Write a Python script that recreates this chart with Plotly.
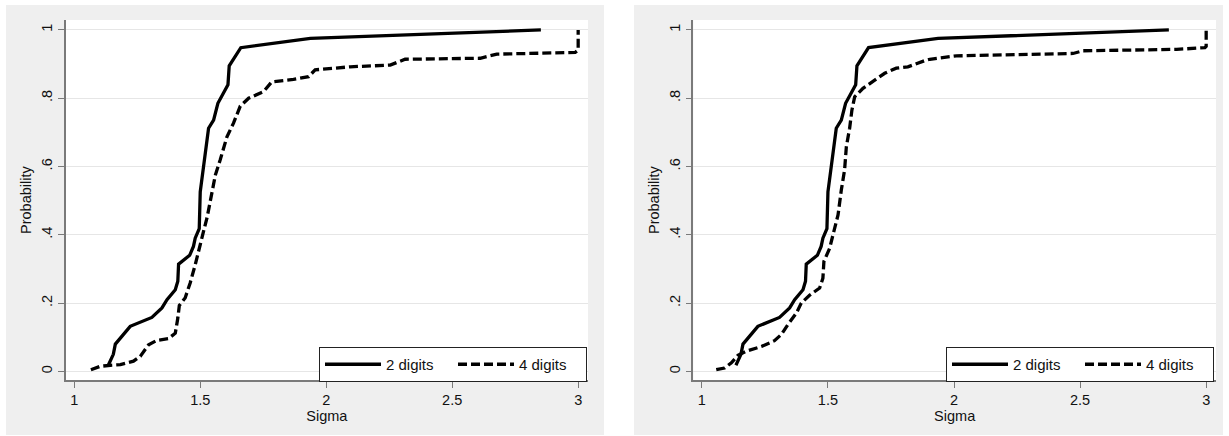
import plotly.graph_objects as go

# ---- data ----
x_two = [1.135, 1.155, 1.163, 1.222, 1.308, 1.348, 1.368, 1.401, 1.411, 1.414, 1.458, 1.473,
         1.480, 1.496, 1.500, 1.516, 1.533, 1.553, 1.570, 1.610, 1.615, 1.661, 1.937, 2.852]
y_two = [0.018, 0.050, 0.080, 0.132, 0.158, 0.186, 0.210, 0.239, 0.264, 0.314, 0.340, 0.366,
         0.390, 0.418, 0.526, 0.609, 0.712, 0.736, 0.785, 0.839, 0.895, 0.948, 0.975, 1.000]

x_four_left = [1.066, 1.103, 1.143, 1.183, 1.235, 1.262, 1.295, 1.328, 1.374, 1.401, 1.411, 1.417,
               1.440, 1.460, 1.480, 1.500, 1.513, 1.527, 1.546, 1.560, 1.579, 1.593, 1.606, 1.632,
               1.659, 1.692, 1.751, 1.784, 1.870, 1.930, 1.956, 2.095, 2.254, 2.313, 2.611, 2.677,
               2.988, 3.000, 3.000]
y_four_left = [0.005, 0.015, 0.018, 0.020, 0.030, 0.044, 0.078, 0.091, 0.096, 0.112, 0.156, 0.193,
               0.215, 0.259, 0.312, 0.366, 0.410, 0.450, 0.526, 0.575, 0.619, 0.658, 0.687, 0.727,
               0.777, 0.800, 0.819, 0.848, 0.855, 0.863, 0.883, 0.892, 0.897, 0.914, 0.917, 0.929,
               0.934, 0.941, 1.000]

x_four_right = [1.057, 1.090, 1.117, 1.143, 1.176, 1.236, 1.288, 1.315, 1.341, 1.375, 1.394, 1.427,
                1.467, 1.480, 1.484, 1.507, 1.520, 1.533, 1.540, 1.553, 1.566, 1.573, 1.586, 1.595,
                1.606, 1.639, 1.679, 1.725, 1.771, 1.817, 1.884, 1.904, 2.010, 2.472, 2.512, 2.883,
                2.995, 3.000, 3.000]
y_four_right = [0.005, 0.010, 0.025, 0.047, 0.059, 0.073, 0.090, 0.108, 0.137, 0.171, 0.200, 0.223,
                0.244, 0.273, 0.322, 0.361, 0.400, 0.440, 0.458, 0.531, 0.590, 0.658, 0.712, 0.765,
                0.804, 0.829, 0.850, 0.873, 0.888, 0.892, 0.910, 0.914, 0.924, 0.931, 0.939, 0.943,
                0.948, 0.952, 1.000]

x_tickvals = [1, 1.5, 2, 2.5, 3]
x_ticktext = ["1", "1.5", "2", "2.5", "3"]
y_tickvals = [0, 0.2, 0.4, 0.6, 0.8, 1.0]
y_ticktext = ["0", ".2", ".4", ".6", ".8", "1"]

series_names = ["2 digits", "4 digits"]

# ---- layout geometry ----
W, H = 1229, 436
FONT = "Liberation Sans, Arial, sans-serif"
GRAY = "#efefef"

def px_x(p):
    return p / W

def px_y(p):
    return 1 - p / H

fig = go.Figure()

solid = dict(color="black", width=3.3)
dashed = dict(color="black", width=3.3, dash="9px,4px")

fig.add_trace(go.Scatter(x=x_two, y=y_two, mode="lines", line=solid, name=series_names[0],
                         xaxis="x", yaxis="y", legend="legend"))
fig.add_trace(go.Scatter(x=x_four_left, y=y_four_left, mode="lines", line=dashed, name=series_names[1],
                         xaxis="x", yaxis="y", legend="legend"))
fig.add_trace(go.Scatter(x=x_two, y=y_two, mode="lines", line=solid, name=series_names[0],
                         xaxis="x2", yaxis="y2", legend="legend2"))
fig.add_trace(go.Scatter(x=x_four_right, y=y_four_right, mode="lines", line=dashed, name=series_names[1],
                         xaxis="x2", yaxis="y2", legend="legend2"))

ydom = [px_y(380.3), px_y(20)]
xdom1 = [px_x(65.7), px_x(588)]
xdom2 = [px_x(693.3), px_x(1216)]

common_x = dict(range=[0.966, 3.039], tickvals=x_tickvals, ticktext=x_ticktext,
                showgrid=False, zeroline=False, showline=True, linecolor="#7a7a7a", linewidth=1.5,
                ticks="outside", ticklen=6, tickwidth=1, tickcolor="#7a7a7a",
                tickfont=dict(family=FONT, size=14.5, color="#111"),
                title=dict(text="Sigma", font=dict(family=FONT, size=14.5, color="#111"), standoff=0))
common_y = dict(range=[-0.026, 1.029], tickvals=y_tickvals, ticktext=y_ticktext,
                showgrid=True, gridcolor="#e6e6e6", gridwidth=1, zeroline=False,
                showline=True, linecolor="#7a7a7a", linewidth=1.5,
                ticks="outside", ticklen=6, tickwidth=1, tickcolor="#7a7a7a", tickangle=-90,
                tickfont=dict(family=FONT, size=14.5, color="#111"),
                title=dict(text="Probability", font=dict(family=FONT, size=14.5, color="#111"), standoff=4))

legend_common = dict(orientation="h", xanchor="left", yanchor="top", bgcolor="white",
                     bordercolor="#222", borderwidth=1, itemwidth=56,
                     entrywidth=62, entrywidthmode="pixels",
                     font=dict(family=FONT, size=15, color="#111"), traceorder="normal")

fig.update_layout(
    width=W, height=H, margin=dict(l=0, r=0, t=0, b=0),
    paper_bgcolor="white", plot_bgcolor="white",
    xaxis=dict(domain=xdom1, anchor="y", **common_x),
    yaxis=dict(domain=ydom, anchor="x", **common_y),
    xaxis2=dict(domain=xdom2, anchor="y2", **common_x),
    yaxis2=dict(domain=ydom, anchor="x2", **common_y),
    legend=dict(x=px_x(319), y=px_y(347), **legend_common),
    legend2=dict(x=px_x(946), y=px_y(347), **legend_common),
    showlegend=True,
    shapes=[
        dict(type="rect", xref="paper", yref="paper", layer="below",
             x0=px_x(6), x1=px_x(604), y0=px_y(435), y1=px_y(5), fillcolor=GRAY, line=dict(width=0)),
        dict(type="rect", xref="paper", yref="paper", layer="below",
             x0=px_x(634), x1=px_x(1223), y0=px_y(435), y1=px_y(5), fillcolor=GRAY, line=dict(width=0)),
        dict(type="rect", xref="paper", yref="paper", layer="below",
             x0=xdom1[0], x1=xdom1[1], y0=ydom[0], y1=ydom[1], fillcolor="white", line=dict(width=0)),
        dict(type="rect", xref="paper", yref="paper", layer="below",
             x0=xdom2[0], x1=xdom2[1], y0=ydom[0], y1=ydom[1], fillcolor="white", line=dict(width=0)),
    ],
)

fig.write_html("out.html", config={"displayModeBar": False},
               post_script="document.body.style.margin='0px';")
